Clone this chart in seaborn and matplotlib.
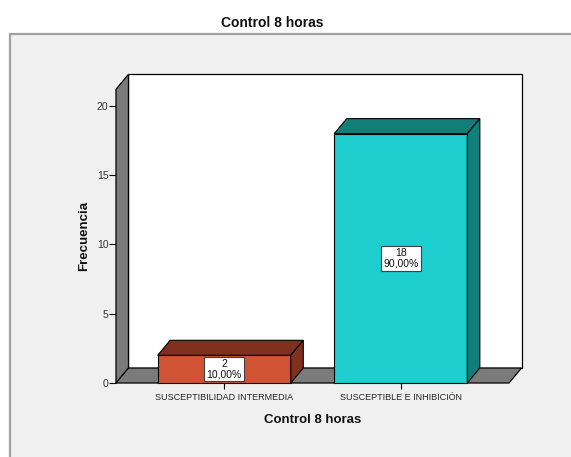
import matplotlib
matplotlib.use("Agg")
import matplotlib.pyplot as plt
from matplotlib.patches import Polygon, Rectangle
import seaborn as sns

# Frequency table
categories = ["SUSCEPTIBILIDAD INTERMEDIA", "SUSCEPTIBLE E INHIBICIÓN"]
counts = [2, 18]
percents = [10.0, 90.0]
yticks = [0, 5, 10, 15, 20]

front_colors = ["#D05434", "#1ECDCD"]
shade_colors = ["#80301F", "#137D7A"]
wall_gray = "#7B7B7B"

sns.set_style("white")
plt.rcParams["font.family"] = ["Liberation Sans", "DejaVu Sans"]

W, H = 571, 457
fig = plt.figure(figsize=(W / 100, H / 100), dpi=100)
fig.patch.set_facecolor("white")

# light-gray panel behind the chart
fig.add_artist(Rectangle((10 / W, -0.1), 1.2, 1.1 - 34 / H,
                         transform=fig.transFigure, facecolor="#F0F0F0",
                         edgecolor="#A0A0A0", linewidth=1.6, zorder=-10))

fig.text(272 / W, 1 - 23 / H, "Control 8 horas", ha="center", va="center",
         fontsize=10, fontweight="bold", color="#111111")

left, right, bottom, top = 116, 509, 383, 89.3
ax = fig.add_axes([left / W, 1 - bottom / H, (right - left) / W, (bottom - top) / H])
ax.set_facecolor("none")

sns.barplot(x=categories, y=counts, hue=categories, palette=front_colors,
            saturation=1, width=0.754, legend=False, ax=ax, edgecolor="black",
            linewidth=0.8, zorder=3)
ax.set_xlim(-0.613, 1.613)
ax.set_ylim(0, 21.2)

# depth of the 3D extrusion, in pixels, converted to data units
dx_px, dy_px = 12.5, 15.0
p0 = ax.transData.transform((0, 0))
p1 = ax.transData.transform((1, 1))
ddx = dx_px / (p1[0] - p0[0])
ddy = dy_px / (p1[1] - p0[1])

x0, x1 = ax.get_xlim()
y0, y1 = ax.get_ylim()

# back wall
ax.add_patch(Rectangle((x0 + ddx, y0 + ddy), x1 - x0, y1 - y0, facecolor="white",
                       edgecolor="black", linewidth=0.9, clip_on=False, zorder=0))
# left wall
ax.add_patch(Polygon([(x0, y0), (x0, y1), (x0 + ddx, y1 + ddy), (x0 + ddx, y0 + ddy)],
                     closed=True, facecolor=wall_gray, edgecolor="black",
                     linewidth=0.9, clip_on=False, zorder=1))
# floor
ax.add_patch(Polygon([(x0, y0), (x1, y0), (x1 + ddx, y0 + ddy), (x0 + ddx, y0 + ddy)],
                     closed=True, facecolor=wall_gray, edgecolor="black",
                     linewidth=0.9, clip_on=False, zorder=1))

bars = [p for p in ax.patches if isinstance(p, Rectangle) and p.get_height() > 0
        and p.get_zorder() == 3]
for bar, shade, n, pct in zip(bars, shade_colors, counts, percents):
    bx, bw, bh = bar.get_x(), bar.get_width(), bar.get_height()
    bar.set_clip_on(False)
    top_face = [(bx, bh), (bx + bw, bh), (bx + bw + ddx, bh + ddy), (bx + ddx, bh + ddy)]
    side_face = [(bx + bw, 0), (bx + bw, bh), (bx + bw + ddx, bh + ddy), (bx + bw + ddx, ddy)]
    for face in (top_face, side_face):
        ax.add_patch(Polygon(face, closed=True, facecolor=shade, edgecolor="black",
                             linewidth=0.8, clip_on=False, zorder=3))
    label = f"{n}\n{pct:.2f}%".replace(".", ",")
    ax.text(bx + bw / 2, bh / 2, label, ha="center", va="center", fontsize=7.5,
            linespacing=1.0, color="#111111", zorder=5,
            bbox=dict(boxstyle="square,pad=0.22", facecolor="white",
                      edgecolor="#404040", linewidth=0.8))

for s in ax.spines.values():
    s.set_visible(False)

ax.set_yticks(yticks)
ax.set_yticklabels([str(t) for t in yticks])
ax.tick_params(axis="y", which="major", direction="out", length=5, width=0.8,
               color="black", labelsize=7.5, pad=0.5, labelcolor="#333333", left=True)
ax.tick_params(axis="x", which="major", direction="out", length=4, width=0.8,
               color="black", labelsize=6.5, pad=3, labelcolor="#222222", bottom=True)

ax.set_ylabel("Frecuencia", fontsize=9.5, fontweight="bold", labelpad=5, color="#111111")
ax.set_xlabel("Control 8 horas", fontsize=9.5, fontweight="bold", labelpad=9, color="#111111")

fig.savefig("out.png", dpi=100)
